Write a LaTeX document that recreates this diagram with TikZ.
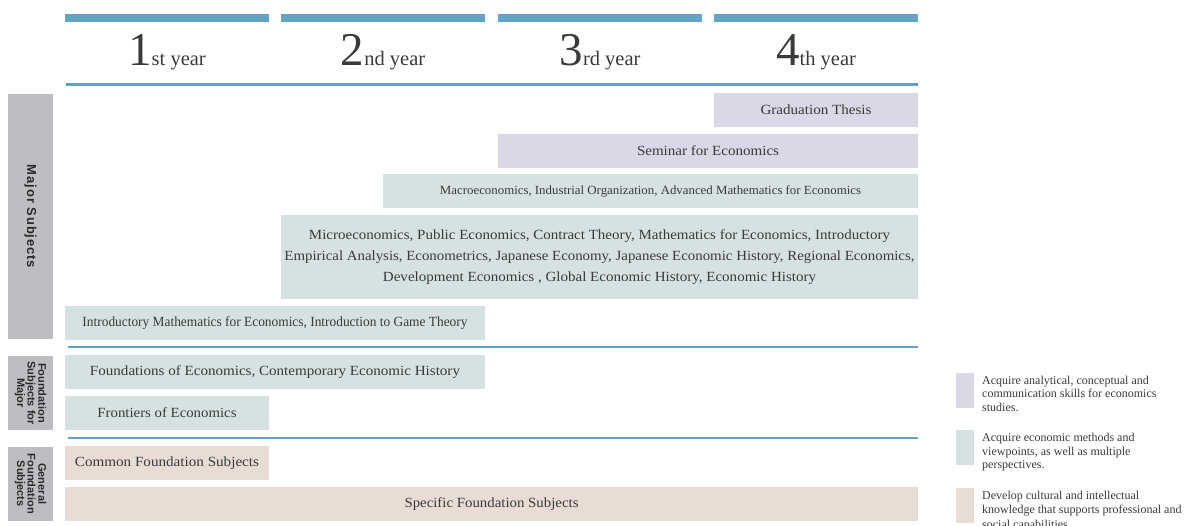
\documentclass[tikz,border=0pt]{standalone}
\usepackage{fontspec}
\setmainfont{Liberation Serif}
\setsansfont{Liberation Sans}
\usepackage{graphicx}
\definecolor{barblue}{HTML}{64A3C4}
\definecolor{lineblue}{HTML}{62A0C6}
\definecolor{lav}{HTML}{D9D8E7}
\definecolor{teal}{HTML}{D6E2E2}
\definecolor{pinkb}{HTML}{E9DCD5}
\definecolor{sidegray}{HTML}{BDBEC2}
\definecolor{txt}{HTML}{3A3A3A}
\definecolor{sidetxt}{HTML}{2A2A2A}
\newcommand\fw[2]{\resizebox{#1}{\height}{#2}}
\tikzset{
  box/.style={anchor=north west, inner sep=0pt, outer sep=0pt, text=txt, font=\fontsize{14}{16}\selectfont},
  lavbox/.style={box, fill=lav},
  tealbox/.style={box, fill=teal},
  pinkbox/.style={box, fill=pinkb},
  sidebox/.style={fill=sidegray, rotate=-90, inner sep=0pt, text=sidetxt, align=center, minimum height=45pt},
  hline/.style={draw=lineblue, line width=2.4pt},
  topbar/.style={fill=barblue},
  yearlbl/.style={anchor=base, text=txt, inner sep=0pt},
  legtxt/.style={anchor=base west, inner sep=0pt, text=txt},
  swatch/.style={anchor=north west, inner sep=0pt, minimum width=18pt, minimum height=35pt}
}
\newcommand\yr[2]{{\fontsize{47}{47}\selectfont #1}{\fontsize{20.5}{20.5}\selectfont #2 year}}
\newcommand\legfont{\fontsize{12}{13.5}\selectfont}
\begin{document}
\begin{tikzpicture}[x=1pt,y=-1pt]
\useasboundingbox (0,0) rectangle (1196,525);
% top bars
\fill[topbar] (65,14) rectangle (269,21.5);
\fill[topbar] (281,14) rectangle (485,21.5);
\fill[topbar] (498,14) rectangle (702,21.5);
\fill[topbar] (714,14) rectangle (918,21.5);
% year labels
\node[yearlbl] (y1) at (167,65) {\yr{1}{st}};
\node[yearlbl] (y2) at (383,65) {\yr{2}{nd}};
\node[yearlbl] (y3) at (600,65) {\yr{3}{rd}};
\node[yearlbl] (y4) at (816,65) {\yr{4}{th}};
% horizontal rules
\draw[hline] (66,84.5) -- (918,84.5);
\draw[hline] (68,347) -- (918,347);
\draw[hline] (68,437.7) -- (918,437.7);
% side labels
\node[sidebox, minimum width=245pt, font=\sffamily\bfseries\fontsize{13}{14}\selectfont\addfontfeature{LetterSpace=7}] (major) at (30.5,216.5) {Major Subjects};
\node[sidebox, minimum width=74pt, font=\sffamily\bfseries\fontsize{11}{10.6}\selectfont] (fmajor) at (30.5,393) {Foundation\\Subjects for\\Major};
\node[sidebox, minimum width=74.3pt, font=\sffamily\bfseries\fontsize{11}{10.6}\selectfont] (general) at (30.5,483.8) {General\\Foundation\\Subjects};
% subject boxes
\node[lavbox, minimum width=204pt, minimum height=34pt] (grad) at (714,93) {\fw{111pt}{Graduation Thesis}};
\node[lavbox, minimum width=420pt, minimum height=34pt] (sem) at (498,134) {\fw{142pt}{Seminar for Economics}};
\node[tealbox, minimum width=535pt, minimum height=34pt, font=\fontsize{12.5}{14}\selectfont] (macro) at (383,174) {\fw{421pt}{Macroeconomics, Industrial Organization, Advanced Mathematics for Economics}};
\node[tealbox, minimum width=637pt, minimum height=84pt, align=center, font=\fontsize{14}{20.7}\selectfont] (micro) at (281,215) {\fw{581pt}{Microeconomics, Public Economics, Contract Theory, Mathematics for Economics, Introductory}\\\fw{630pt}{Empirical Analysis, Econometrics, Japanese Economy, Japanese Economic History, Regional Economics,}\\\fw{433pt}{Development Economics , Global Economic History, Economic History}};
\node[tealbox, minimum width=420pt, minimum height=34pt] (intro) at (65,306) {\fw{385pt}{Introductory Mathematics for Economics, Introduction to Game Theory}};
\node[tealbox, minimum width=420pt, minimum height=34pt] (found) at (65,355) {\fw{370pt}{Foundations of Economics, Contemporary Economic History}};
\node[tealbox, minimum width=204pt, minimum height=34pt] (front) at (65,396) {\fw{139pt}{Frontiers of Economics}};
\node[pinkbox, minimum width=204pt, minimum height=34pt] (common) at (65,446) {\fw{184pt}{Common Foundation Subjects}};
\node[pinkbox, minimum width=853pt, minimum height=34pt] (spec) at (65,487) {\fw{174pt}{Specific Foundation Subjects}};
% legend
\node[swatch, fill=lav] (s1) at (956,372.7) {};
\node[swatch, fill=teal] (s2) at (956,430) {};
\node[swatch, fill=pinkb] (s3) at (956,487.7) {};
\node[legtxt] (l1a) at (982,384) {\legfont Acquire analytical, conceptual and};
\node[legtxt] (l1b) at (982,397.5) {\legfont communication skills for economics};
\node[legtxt] (l1c) at (982,411) {\legfont studies.};
\node[legtxt] (l2a) at (982,441.5) {\legfont Acquire economic methods and};
\node[legtxt] (l2b) at (982,455) {\legfont viewpoints, as well as multiple};
\node[legtxt] (l2c) at (982,468.5) {\legfont perspectives.};
\node[legtxt] (l3a) at (982,499) {\legfont Develop cultural and intellectual};
\node[legtxt] (l3b) at (982,513) {\legfont knowledge that supports professional and};
\node[legtxt] (l3c) at (982,528.5) {\legfont social capabilities.};
\end{tikzpicture}
\end{document}
